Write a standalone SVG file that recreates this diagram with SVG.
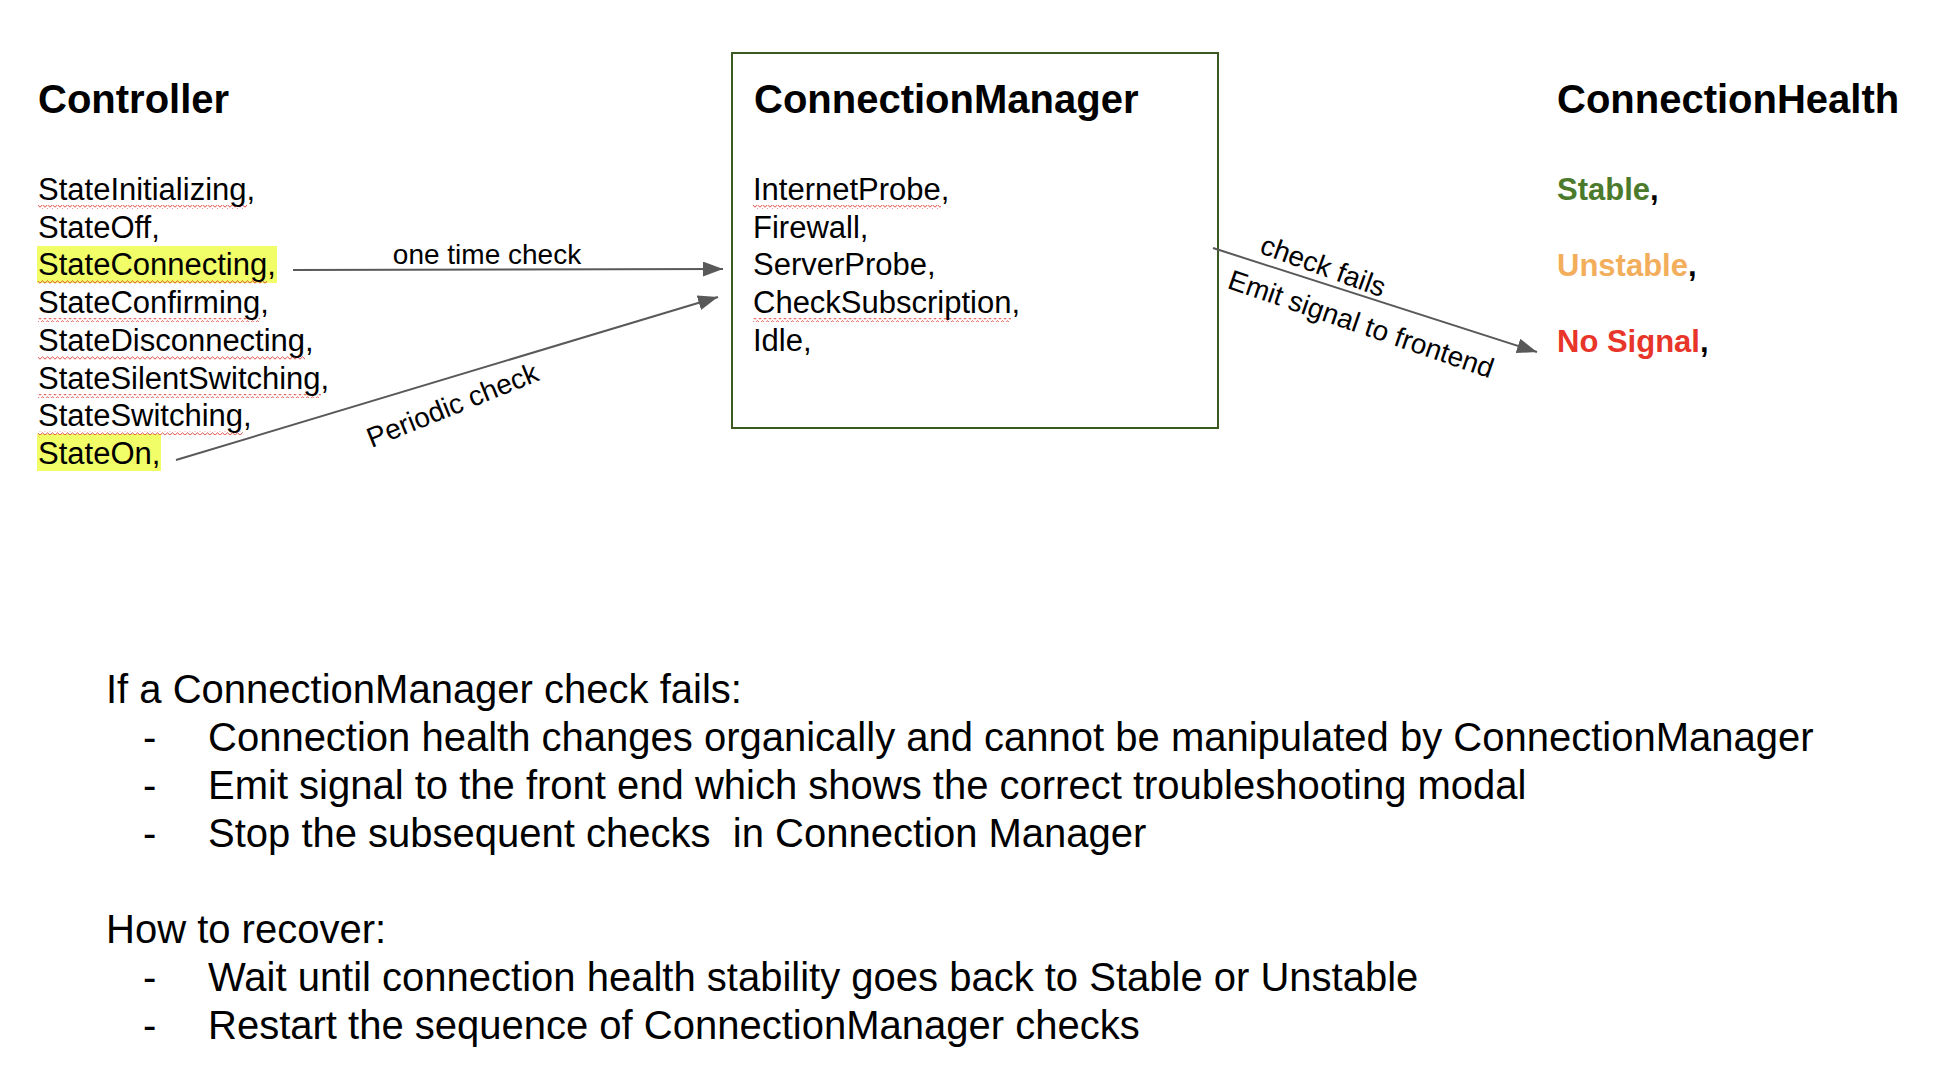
<svg xmlns="http://www.w3.org/2000/svg" width="1948" height="1084" viewBox="0 0 1948 1084">
  <style>
    text { font-family: "Liberation Sans", Arial, sans-serif; fill: #000; }
    .title { font-size: 40px; font-weight: bold; }
    .item { font-size: 31px; }
    .health { font-size: 31px; font-weight: bold; }
    .lbl { font-size: 28px; }
    .body { font-size: 40px; white-space: pre; }
    .hl { fill: #f1fe67; }
    .sq { fill: url(#squiggle); }
    .conn { stroke: #595959; stroke-width: 2; fill: none; marker-end: url(#arrow); }
  </style>
  <defs>
    <pattern id="squiggle" patternUnits="userSpaceOnUse" x="0" y="0" width="5" height="4">
      <path d="M0,3.2 L2.5,0.8 L5,3.2" stroke="#e0352b" stroke-width="0.9" fill="none"/>
    </pattern>
    <marker id="arrow" viewBox="0 0 20 15" refX="20" refY="7.5" markerWidth="20" markerHeight="15" markerUnits="userSpaceOnUse" orient="auto">
      <path d="M0,0 L20,7.5 L0,15 z" fill="#595959"/>
    </marker>
  </defs>
  <rect width="1948" height="1084" fill="#ffffff"/>

  <g id="controller">
    <text class="title" x="38" y="113">Controller</text>
    <rect class="hl" x="37" y="246" width="240" height="37"/>
    <rect class="hl" x="37" y="434" width="124" height="37"/>
    <rect class="sq" x="38" y="205" width="209" height="4"/>
    <rect class="sq" x="38" y="280" width="229" height="4"/>
    <rect class="sq" x="38" y="318" width="222" height="4"/>
    <rect class="sq" x="38" y="356" width="267" height="4"/>
    <rect class="sq" x="38" y="394" width="283" height="4"/>
    <rect class="sq" x="38" y="431" width="205" height="4"/>
    <text class="item" x="38" y="200">StateInitializing,</text>
    <text class="item" x="38" y="237.7">StateOff,</text>
    <text class="item" x="38" y="275.4">StateConnecting,</text>
    <text class="item" x="38" y="313.1">StateConfirming,</text>
    <text class="item" x="38" y="350.8">StateDisconnecting,</text>
    <text class="item" x="38" y="388.5">StateSilentSwitching,</text>
    <text class="item" x="38" y="426.2">StateSwitching,</text>
    <text class="item" x="38" y="463.9">StateOn,</text>
  </g>

  <g id="connection-manager">
    <rect x="732" y="53" width="486" height="375" fill="none" stroke="#3b5a22" stroke-width="2"/>
    <text class="title" x="754" y="113">ConnectionManager</text>
    <rect class="sq" x="753" y="205" width="188" height="4"/>
    <rect class="sq" x="753" y="318" width="258" height="4"/>
    <text class="item" x="753" y="200">InternetProbe,</text>
    <text class="item" x="753" y="237.7">Firewall,</text>
    <text class="item" x="753" y="275.4">ServerProbe,</text>
    <text class="item" x="753" y="313.1">CheckSubscription,</text>
    <text class="item" x="753" y="350.8">Idle,</text>
  </g>

  <g id="connection-health">
    <text class="title" x="1557" y="113">ConnectionHealth</text>
    <text class="health" x="1557" y="200"><tspan fill="#4b7a2c">Stable</tspan>,</text>
    <text class="health" x="1557" y="276"><tspan fill="#f3ae5c">Unstable</tspan>,</text>
    <text class="health" x="1557" y="352"><tspan fill="#e8352a">No Signal</tspan>,</text>
  </g>

  <g id="connectors">
    <path class="conn" d="M293,270 L723,269"/>
    <path class="conn" d="M176,460 L718,297"/>
    <path class="conn" d="M1213,248 L1537,352"/>
    <text class="lbl" x="487" y="264" text-anchor="middle">one time check</text>
    <text class="lbl" text-anchor="middle" transform="translate(456,414) rotate(-22)">Periodic check</text>
    <text class="lbl" text-anchor="middle" transform="translate(1320,275) rotate(20)">check fails</text>
    <text class="lbl" text-anchor="middle" transform="translate(1358,333) rotate(19)">Emit signal to frontend</text>
  </g>

  <g id="notes">
    <text class="body" x="106" y="703">If a ConnectionManager check fails:</text>
    <text class="body" x="143" y="751">-</text>
    <text class="body" x="208" y="751">Connection health changes organically and cannot be manipulated by ConnectionManager</text>
    <text class="body" x="143" y="799">-</text>
    <text class="body" x="208" y="799">Emit signal to the front end which shows the correct troubleshooting modal</text>
    <text class="body" x="143" y="847">-</text>
    <text class="body" x="208" y="847">Stop the subsequent checks  in Connection Manager</text>
    <text class="body" x="106" y="943">How to recover:</text>
    <text class="body" x="143" y="991">-</text>
    <text class="body" x="208" y="991">Wait until connection health stability goes back to Stable or Unstable</text>
    <text class="body" x="143" y="1039">-</text>
    <text class="body" x="208" y="1039">Restart the sequence of ConnectionManager checks</text>
  </g>
</svg>
